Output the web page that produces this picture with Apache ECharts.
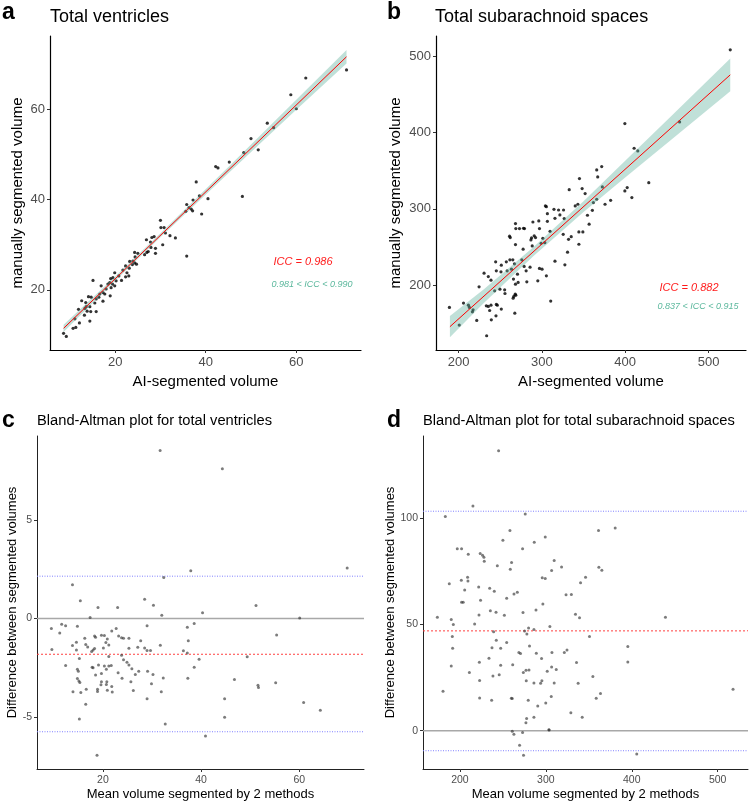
<!DOCTYPE html>
<html><head><meta charset="utf-8">
<script src="https://cdn.jsdelivr.net/npm/echarts@6/dist/echarts.min.js"></script>
<style>html,body{margin:0;padding:0;background:#fff}#chart{width:749px;height:804px}</style>
</head><body><div id="chart"></div>
<script>
// ---------- Panel a: Total ventricles ----------
const aAI = [71.1,62.1,58.8,60.0,53.6,55.0,50.0,51.6,48.4,45.2,42.2,42.7,48.1,37.9,40.5,38.6,37.2,35.8,36.3,36.8,37.1,35.6,39.1,35.8,30.0,30.1,30.8,31.1,32.1,33.3,30.5,28.9,28.9,28.6,28.1,26.9,27.8,27.9,27.3,26.5,27.0,25.0,24.3,24.4,23.9,24.3,24.7,23.8,23.2,23.1,22.3,22.6,23.0,21.7,22.3,21.4,20.8,20.2,19.9,19.5,19.0,18.8,19.4,19.9,19.1,18.4,18.0,18.9,17.7,17.3,16.9,16.6,16.4,15.8,15.1,17.3,15.5,14.7,14.1,13.5,12.6,13.6,13.3,14.4,13.8,14.6,13.2,11.9,15.8,14.4,12.1,11.1,11.3,10.7,8.6,9.2];
const aManual = [68.7,66.9,63.2,60.1,56.9,55.9,53.5,51.0,50.4,48.3,47.3,47.0,40.7,43.9,40.2,40.8,39.9,38.9,38.2,37.9,37.5,37.4,36.8,27.5,35.4,33.8,33.8,32.6,32.0,31.5,30.0,28.1,29.2,31.8,31.6,31.1,30.6,29.4,28.5,27.8,28.3,28.1,28.3,27.3,26.4,26.0,25.7,25.6,26.3,24.8,25.3,23.8,23.1,24.4,22.9,22.1,23.1,22.0,23.8,22.7,22.5,21.6,21.3,20.9,20.5,21.3,20.2,18.7,19.1,19.4,20.9,19.1,18.4,18.0,22.1,17.5,17.1,18.4,18.5,17.2,17.6,16.3,15.9,16.3,15.3,15.2,14.4,15.7,15.2,13.1,12.7,13.6,11.7,11.5,10.4,9.7];
const aFitX = [8.6, 71.1];
const aFitY = [11.5, 71.6];
const aBandX = [8.6, 20, 30, 45, 60, 71.1];
const aBandLow = [10.7, 22.05, 31.65, 45.8, 59.9, 70.1];
const aBandHigh = [12.3, 22.95, 32.55, 47.2, 62.1, 73.1];
const aXTicks = [20, 40, 60];
const aYTicks = [20, 40, 60];

// ---------- Panel b: Total subarachnoid spaces ----------
const bAI = [526.1,399.6,465.3,410.7,415.1,428.3,402.4,399.6,408.0,371.8,365.8,367.0,345.1,332.8,348.3,351.9,372.6,365.8,361.8,375.8,382.5,360.6,354.7,356.7,344.4,349.2,344.4,340.0,343.2,326.0,320.0,314.5,321.6,315.7,326.8,304.2,305.4,306.6,306.6,296.3,289.2,309.8,301.1,303.5,299.1,325.6,335.2,332.0,297.1,290.8,287.6,292.4,288.4,286.8,277.9,279.1,273.1,268.3,268.7,261.2,262.0,268.3,277.5,275.9,265.1,261.6,257.3,267.1,263.5,258.3,270.7,265.9,278.7,285.8,297.1,300.2,305.4,295.1,281.9,271.5,268.3,251.3,244.5,250.9,245.3,238.9,235.7,230.6,224.6,243.3,249.6,255.3,255.7,268.0,268.7,266.3,265.5,267.5,315.7,327.6,330.8,310.6,251.3,245.3,246.5,238.9,235.7,233.3,237.3,239.3,244.9,221.8,217.4,216.6,213.0,211.8,205.9,189.0,200.8,233.7,281.1];
const bManual = [508.8,412.0,414.2,379.6,376.1,334.4,327.9,323.5,314.8,355.5,351.1,341.9,339.7,325.2,326.6,320.0,328.8,312.6,308.2,306.0,311.2,298.1,291.6,279.8,269.7,269.7,253.5,303.8,306.0,298.5,298.5,299.4,292.0,287.6,287.2,303.8,302.9,293.7,283.6,284.1,282.7,270.5,261.3,255.6,254.7,266.5,263.4,259.9,274.1,264.5,261.8,262.2,251.3,259.2,274.5,274.1,274.1,280.7,274.1,264.1,262.3,253.1,247.0,233.0,233.0,233.0,230.4,227.8,220.8,218.6,214.2,207.7,224.3,223.4,221.7,220.8,212.0,205.5,204.1,203.3,201.1,226.0,230.4,217.3,218.6,206.3,211.1,215.5,197.6,192.3,194.5,193.6,188.8,187.9,186.6,184.9,182.7,163.0,231.3,226.5,243.1,178.9,168.3,174.4,173.5,173.5,171.8,172.6,166.5,154.2,159.5,153.4,167.4,164.8,170.5,173.5,176.2,170.5,147.3,133.3,218.6];
const bFitX = [189.6, 526.1];
const bFitY = [145.2, 476.0];
const bBandX = [189.6, 230, 290, 350, 400, 460, 526.1];
const bBandLow = [131.2, 175.9, 237.9, 295.9, 341.0, 395.0, 454.5];
const bBandHigh = [159.2, 193.9, 249.9, 309.9, 363.0, 427.0, 497.5];
const bXTicks = [200, 300, 400, 500];
const bYTicks = [200, 300, 400, 500];

// ---------- Panel c: Bland-Altman, ventricles ----------
const cMean = [31.66,44.34,69.77,37.9,32.4,13.8,15.4,28.5,30.3,19.0,23.0,51.2,40.3,32.0,17.4,60.1,9.5,11.2,11.6,12.4,14.8,29.0,38.6,37.2,37.4,55.4,22.7,21.8,23.2,23.8,24.2,25.3,27.7,16.3,16.9,16.5,14.6,13.8,14.6,9.6,18.3,18.5,19.7,20.3,20.9,20.6,21.2,20.1,18.3,18.0,17.7,25.3,27.1,28.5,29.0,29.7,31.7,36.4,37.2,49.4,39.6,15.2,21.2,23.8,24.2,24.9,25.3,25.9,12.4,17.8,18.0,19.1,20.3,21.2,21.7,20.7,14.8,15.0,23.1,26.6,27.3,29.1,30.2,38.6,37.3,32.3,18.5,19.7,23.9,14.8,15.1,15.3,19.7,20.8,19.6,20.7,21.8,25.7,29.9,18.9,18.9,20.9,21.9,16.6,13.9,15.5,26.2,31.9,46.8,51.6,51.7,55.2,29.0,44.8,60.9,64.3,16.5,15.2,44.8,32.7,40.9,18.8];
const cDiff = [8.53,7.60,2.57,2.42,2.08,1.71,0.90,0.98,0.68,0.56,0.56,0.66,0.29,0.17,0.05,0.03,-0.51,-0.73,-0.29,-0.37,-0.39,-0.37,-0.25,-0.44,-1.13,-0.83,-0.50,-0.63,-0.89,-0.97,-1.00,-1.00,-1.13,-1.00,-1.44,-1.32,-1.20,-1.37,-1.59,-1.57,-0.89,-0.95,-0.85,-0.86,-1.03,-1.22,-1.34,-1.49,-1.52,-1.59,-1.67,-1.50,-1.45,-1.49,-1.62,-1.62,-1.35,-1.63,-1.75,-1.94,-2.06,-2.02,-1.92,-1.86,-2.09,-2.21,-2.35,-2.55,-2.38,-2.47,-2.50,-2.35,-2.40,-2.40,-2.38,-2.57,-2.57,-2.67,-2.75,-2.84,-2.67,-2.67,-2.84,-2.47,-3.03,-3.01,-2.86,-2.79,-3.03,-3.04,-3.17,-3.24,-3.21,-3.21,-3.36,-3.34,-3.44,-3.21,-3.31,-3.58,-3.70,-3.63,-3.73,-3.58,-3.71,-3.75,-3.65,-3.71,-3.09,-3.38,-3.50,-3.26,-4.07,-4.07,-4.26,-4.65,-4.34,-5.10,-5.01,-5.35,-5.95,-6.93];
const cMeanDiff = -1.81;
const cLimits = [2.15, -5.74];
const cXTicks = [20, 40, 60];
const cYTicks = [-5, 0, 5];

// ---------- Panel d: Bland-Altman, subarachnoid ----------
const dMean = [245.0,215.1,183.0,276.0,258.2,361.3,380.7,250.0,299.3,286.5,272.9,196.9,201.9,209.7,223.6,226.3,227.9,228.3,260.1,243.5,258.6,309.7,318.3,306.7,361.7,365.2,208.9,209.3,201.6,187.6,295.8,299.3,346.2,340.4,205.5,221.8,234.6,240.0,262.9,266.8,254.4,323.5,329.7,201.9,203.8,224.0,296.5,235.4,242.0,251.7,273.4,288.5,222.2,334.5,339.2,439.2,173.7,189.9,192.3,217.1,304.7,279.9,286.1,275.3,239.2,277.9,191.1,350.8,242.3,254.4,191.5,237.3,247.4,281.0,268.6,270.5,288.9,307.1,321.5,324.6,395.4,233.8,295.0,335.7,395.4,189.9,222.6,247.4,261.4,306.7,312.1,301.6,273.8,276.9,280.4,211.0,238.4,245.7,354.7,222.9,277.2,286.1,293.9,295.4,309.7,337.6,180.3,517.9,363.6,358.6,222.9,236.9,259.8,260.9,279.5,306.3,290.6,299.9,286.1,277.6,276.8,329.1,342.3,303.5,303.9,260.9,262.8,272.9,269.4,274.0,405.8];
const dDiff = [131.8,105.8,100.8,102.0,94.2,94.2,95.4,89.7,91.2,88.7,85.6,85.6,85.6,83.1,83.4,82.6,81.7,79.8,79.2,77.6,76.0,80.1,77.1,75.4,76.9,75.5,72.2,70.5,70.8,69.2,72.0,71.6,72.2,69.6,66.2,67.7,67.1,65.7,64.3,65.2,62.4,64.0,64.1,60.5,60.5,61.4,59.7,56.5,55.8,54.4,55.6,56.8,54.5,54.8,53.2,53.4,53.4,52.4,50.0,50.2,49.0,48.3,47.7,46.9,46.6,45.5,44.4,44.4,42.6,41.5,38.8,39.0,38.8,39.9,36.8,36.3,36.5,36.8,36.8,38.0,39.7,34.1,34.0,32.1,32.4,30.5,32.2,30.8,31.1,30.0,28.8,28.0,27.4,28.5,28.6,27.4,25.8,26.4,25.5,23.6,23.5,22.5,22.4,23.5,22.5,22.4,18.6,19.5,17.5,15.3,15.4,14.4,15.3,15.2,14.4,16.1,11.6,13.0,6.4,5.8,3.8,8.5,6.4,0.5,0.3,-0.2,-1.7,-0.8,-6.8,-11.5,-11.0];
const dMeanDiff = 47.0;
const dLimits = [103.3, -9.4];
const dXTicks = [200, 300, 400, 500];
const dYTicks = [0, 50, 100];

// ---------- helpers ----------
const FONT = '"Liberation Sans", Arial, sans-serif';
const zip = (xs, ys) => xs.map((x, i) => [x, ys[i]]);

function axis(opts) {
  return {
    type: 'value', gridIndex: opts.grid, min: opts.min, max: opts.max,
    name: opts.name, nameLocation: 'middle', nameGap: opts.nameGap,
    nameTextStyle: { fontFamily: FONT, fontSize: opts.nameSize, color: '#000' },
    splitLine: { show: false },
    axisLine: { show: true, onZero: false, lineStyle: { color: opts.lineColor, width: opts.lineWidth } },
    axisTick: { show: true, length: 3, lineStyle: { color: '#333' }, customValues: opts.ticks },
    axisLabel: { customValues: opts.ticks, fontFamily: FONT, fontSize: opts.labelSize, color: '#4d4d4d', margin: opts.margin }
  };
}

function bandSeries(ax, bx, lo, hi) {
  return {
    type: 'custom', xAxisIndex: ax, yAxisIndex: ax, data: [[bx[0], lo[0]]], silent: true, z: 3,
    renderItem: function (params, api) {
      const pts = [];
      for (let i = 0; i < bx.length; i++) pts.push(api.coord([bx[i], hi[i]]));
      for (let i = bx.length - 1; i >= 0; i--) pts.push(api.coord([bx[i], lo[i]]));
      return { type: 'polygon', shape: { points: pts }, style: { fill: 'rgba(98,177,157,0.40)' } };
    }
  };
}

function fitSeries(ax, fx, fy) {
  return { type: 'line', xAxisIndex: ax, yAxisIndex: ax, data: zip(fx, fy), symbol: 'none', silent: true, z: 4,
    lineStyle: { color: '#ff0000', width: 1 } };
}

function hLine(ax, xr, yv, color, width, dash, z) {
  return { type: 'line', xAxisIndex: ax, yAxisIndex: ax, data: [[xr[0], yv], [xr[1], yv]], symbol: 'none', silent: true, z: z,
    lineStyle: { color: color, width: width, type: dash } };
}

const cRange = [6.57, 73.2];
const dRange = [157, 535.3];

const chart = echarts.init(document.getElementById('chart'), null, { renderer: 'canvas' });

const option = {
  animation: false,
  backgroundColor: '#fff',
  grid: [
    { left: 50, top: 36, width: 311, height: 314 },
    { left: 436, top: 36, width: 310, height: 314 },
    { left: 37, top: 436, width: 327, height: 333 },
    { left: 423, top: 436, width: 325, height: 333 }
  ],
  xAxis: [
    axis({ grid: 0, min: 5.6, max: 74.3, ticks: aXTicks, name: 'AI-segmented volume', nameGap: 24, nameSize: 15, labelSize: 13, margin: 6, lineColor: '#000', lineWidth: 1.2 }),
    axis({ grid: 1, min: 172.9, max: 545, ticks: bXTicks, name: 'AI-segmented volume', nameGap: 24, nameSize: 15, labelSize: 13, margin: 6, lineColor: '#000', lineWidth: 1.2 }),
    axis({ grid: 2, min: cRange[0], max: cRange[1], ticks: cXTicks, name: 'Mean volume segmented by 2 methods', nameGap: 19, nameSize: 13, labelSize: 10.5, margin: 6, lineColor: '#222', lineWidth: 1 }),
    axis({ grid: 3, min: dRange[0], max: dRange[1], ticks: dXTicks, name: 'Mean volume segmented by 2 methods', nameGap: 19, nameSize: 13, labelSize: 10.5, margin: 6, lineColor: '#222', lineWidth: 1 })
  ],
  yAxis: [
    axis({ grid: 0, min: 6.7, max: 76.2, ticks: aYTicks, name: 'manually segmented volume', nameGap: 25, nameSize: 15, labelSize: 13, margin: 5, lineColor: '#000', lineWidth: 1.2 }),
    axis({ grid: 1, min: 114.6, max: 527, ticks: bYTicks, name: 'manually segmented volume', nameGap: 33, nameSize: 15, labelSize: 13, margin: 5, lineColor: '#000', lineWidth: 1.2 }),
    axis({ grid: 2, min: -7.63, max: 9.26, ticks: cYTicks, name: 'Difference between segmented volumes', nameGap: 17, nameSize: 13, labelSize: 10.5, margin: 5, lineColor: '#222', lineWidth: 1 }),
    axis({ grid: 3, min: -18.0, max: 138.7, ticks: dYTicks, name: 'Difference between segmented volumes', nameGap: 25, nameSize: 13, labelSize: 10.5, margin: 5, lineColor: '#222', lineWidth: 1 })
  ],
  series: [
    { type: 'scatter', xAxisIndex: 0, yAxisIndex: 0, data: zip(aAI, aManual), symbolSize: 3.2, itemStyle: { color: '#000' }, z: 2 },
    bandSeries(0, aBandX, aBandLow, aBandHigh),
    fitSeries(0, aFitX, aFitY),
    { type: 'scatter', xAxisIndex: 1, yAxisIndex: 1, data: zip(bAI, bManual), symbolSize: 3.2, itemStyle: { color: '#000' }, z: 2 },
    bandSeries(1, bBandX, bBandLow, bBandHigh),
    fitSeries(1, bFitX, bFitY),
    hLine(2, cRange, 0, '#a8a8a8', 1.6, 'solid', 2),
    hLine(2, cRange, cMeanDiff, '#ff4040', 1, [2, 2], 2),
    hLine(2, cRange, cLimits[0], '#8080ff', 1, [1, 1.5], 2),
    hLine(2, cRange, cLimits[1], '#8080ff', 1, [1, 1.5], 2),
    { type: 'scatter', xAxisIndex: 2, yAxisIndex: 2, data: zip(cMean, cDiff), symbolSize: 3, itemStyle: { color: 'rgba(50,50,50,0.8)' }, z: 5 },
    hLine(3, dRange, 0, '#a8a8a8', 1.6, 'solid', 2),
    hLine(3, dRange, dMeanDiff, '#ff4040', 1, [2, 2], 2),
    hLine(3, dRange, dLimits[0], '#8080ff', 1, [1, 1.5], 2),
    hLine(3, dRange, dLimits[1], '#8080ff', 1, [1, 1.5], 2),
    { type: 'scatter', xAxisIndex: 3, yAxisIndex: 3, data: zip(dMean, dDiff), symbolSize: 3, itemStyle: { color: 'rgba(50,50,50,0.8)' }, z: 5 }
  ],
  graphic: [
    { type: 'text', x: 2, y: 13, style: { text: 'a', font: 'bold 23px ' + FONT, fill: '#000', verticalAlign: 'middle' } },
    { type: 'text', x: 50, y: 17, style: { text: 'Total ventricles', font: '18px ' + FONT, fill: '#000', verticalAlign: 'middle' } },
    { type: 'text', x: 387, y: 13, style: { text: 'b', font: 'bold 23px ' + FONT, fill: '#000', verticalAlign: 'middle' } },
    { type: 'text', x: 435, y: 17, style: { text: 'Total subarachnoid spaces', font: '18px ' + FONT, fill: '#000', verticalAlign: 'middle' } },
    { type: 'text', x: 2, y: 421, style: { text: 'c', font: 'bold 23px ' + FONT, fill: '#000', verticalAlign: 'middle' } },
    { type: 'text', x: 37, y: 421, style: { text: 'Bland-Altman plot for total ventricles', font: '14.7px ' + FONT, fill: '#000', verticalAlign: 'middle' } },
    { type: 'text', x: 387, y: 421, style: { text: 'd', font: 'bold 23px ' + FONT, fill: '#000', verticalAlign: 'middle' } },
    { type: 'text', x: 423, y: 421, style: { text: 'Bland-Altman plot for total subarachnoid spaces', font: '14.7px ' + FONT, fill: '#000', verticalAlign: 'middle' } },
    { type: 'text', x: 303, y: 262, style: { text: 'ICC = 0.986', font: 'italic 11px ' + FONT, fill: '#ff1a1a', align: 'center', verticalAlign: 'middle' } },
    { type: 'text', x: 312, y: 284, style: { text: '0.981 < ICC < 0.990', font: 'italic 9px ' + FONT, fill: '#5cb89d', align: 'center', verticalAlign: 'middle' } },
    { type: 'text', x: 689, y: 288, style: { text: 'ICC = 0.882', font: 'italic 11px ' + FONT, fill: '#ff1a1a', align: 'center', verticalAlign: 'middle' } },
    { type: 'text', x: 698, y: 306, style: { text: '0.837 < ICC < 0.915', font: 'italic 9px ' + FONT, fill: '#5cb89d', align: 'center', verticalAlign: 'middle' } }
  ]
};
chart.setOption(option);
</script>
</body></html>
